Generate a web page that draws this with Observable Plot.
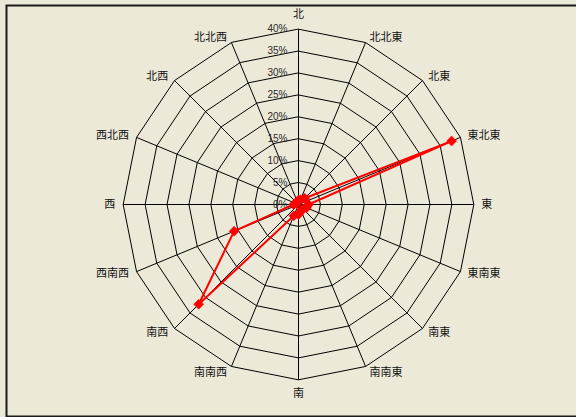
<!DOCTYPE html>
<html>
<head>
<meta charset="utf-8">
<script src="https://cdn.jsdelivr.net/npm/d3@7"></script>
<script src="https://cdn.jsdelivr.net/npm/@observablehq/plot@0.6"></script>
<style>
  html, body { margin: 0; padding: 0; background: #ECE9D8; }
  #chart svg { display: block; }
</style>
</head>
<body>
<div id="chart"></div>
<script>
// Sixteen compass points, clockwise from north
const directions = ["北", "北北東", "北東", "東北東", "東", "東南東", "南東", "南南東",
                    "南", "南南西", "南西", "西南西", "西", "西北西", "北西", "北北西"];
// Frequency of each wind direction (%)
const shares = [1.0, 1.2, 2.0, 37.8, 2.3, 2.0, 1.5, 1.5,
                2.3, 2.8, 32.2, 15.9, 1.1, 0.5, 0.5, 0.6];
// Radial gridline levels and their labels
const levels = [0, 5, 10, 15, 20, 25, 30, 35, 40];
const levelLabels = ["0%", "5%", "10%", "15%", "20%", "25%", "30%", "35%", "40%"];

const rMax = 40;
const cx = 298, cy = 204, R = 175.3;   // centre and outer radius in pixels
const pxToUnit = rMax / R;

const angle = i => (i * 2 * Math.PI) / directions.length;
const polar = (r, i) => ({x: r * Math.sin(angle(i)), y: r * Math.cos(angle(i))});

// Concentric 16-sided rings
const rings = levels.filter(l => l > 0).flatMap(l =>
  directions.map((d, i) => ({level: l, ...polar(l, i)})));

// Spokes from centre to the outer ring
const spokes = directions.map((d, i) => ({...polar(rMax, i)}));

// Observed series
const series = directions.map((d, i) => ({dir: d, value: shares[i], ...polar(shares[i], i)}));

// Direction labels just outside the outer ring
const dirLabels = directions.map((d, i) => {
  const s = Math.sin(angle(i)), c = Math.cos(angle(i));
  const p = polar(rMax, i);
  let ox, oy, anchor;
  if (Math.abs(s) < 1e-9) {
    ox = 0; oy = (c > 0 ? 14.5 : -14) ; anchor = "middle";
  } else {
    ox = 6 * s + (s > 0 ? 1.5 : -2);
    oy = 6 * c;
    anchor = s > 0 ? "start" : "end";
  }
  return {label: d, x: p.x + ox * pxToUnit, y: p.y + oy * pxToUnit, anchor};
});

const cjk = "'Noto Sans CJK JP', 'Noto Sans CJK SC', sans-serif";

const labelMark = anchor => Plot.text(dirLabels.filter(d => d.anchor === anchor), {
  x: "x", y: "y", text: "label", textAnchor: anchor,
  fontSize: 11, fontFamily: cjk, fill: "#111"
});

const chart = Plot.plot({
  width: 576,
  height: 417,
  margin: 0,
  x: {domain: [-rMax, rMax], range: [cx - R, cx + R], axis: null},
  y: {domain: [-rMax, rMax], range: [cy + R, cy - R], axis: null},
  style: {background: "#ECE9D8", overflow: "visible"},
  marks: [
    Plot.frame({stroke: "#1a1a1a", strokeWidth: 2, insetLeft: 6, insetTop: 5, insetBottom: 1, insetRight: -10}),
    Plot.line(rings, {x: "x", y: "y", z: "level", curve: "linear-closed", stroke: "#000", strokeWidth: 1}),
    Plot.link(spokes, {x1: 0, y1: 0, x2: "x", y2: "y", stroke: "#000", strokeWidth: 1}),
    Plot.text(levels, {
      x: 0, y: d => d, text: (d, i) => levelLabels[i], textAnchor: "end", dx: -11,
      fontSize: 10, fontFamily: "'Liberation Sans', Arial, sans-serif", fill: "#2a2a2a"
    }),
    labelMark("middle"),
    labelMark("start"),
    labelMark("end"),
    Plot.line(series, {x: "x", y: "y", curve: "linear-closed", stroke: "#FF0000", strokeWidth: 2}),
    Plot.dot(series, {x: "x", y: "y", symbol: "diamond2", r: 4.5, fill: "#FF0000", stroke: "#FF0000", strokeWidth: 0.5})
  ]
});

document.getElementById("chart").append(chart);
</script>
</body>
</html>
